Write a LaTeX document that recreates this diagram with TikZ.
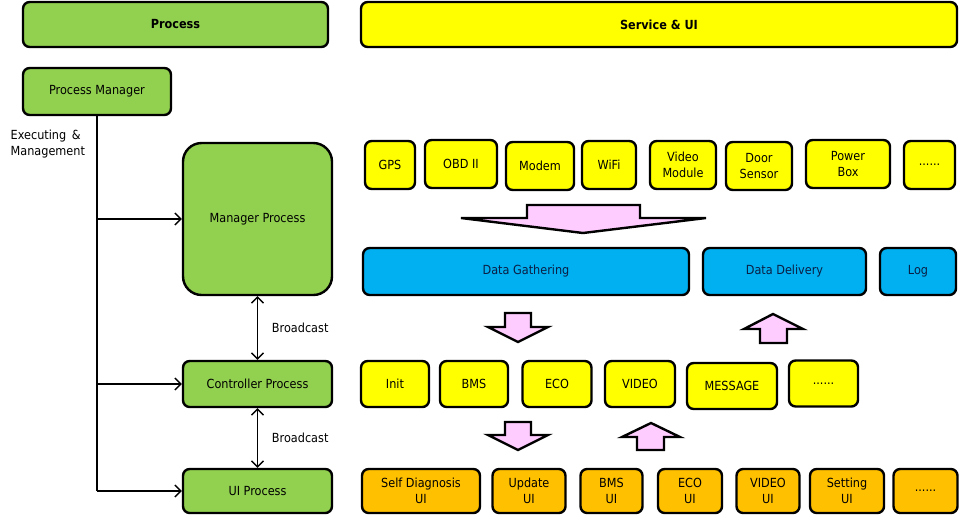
\documentclass[tikz,border=0pt]{standalone}
\usepackage{fontspec}
\setmainfont{DejaVu Sans Condensed}
\usetikzlibrary{
  positioning,
  arrows.meta
}
\definecolor{procgreen}{HTML}{92D050}
\definecolor{svcyellow}{HTML}{FFFF00}
\definecolor{datablue}{HTML}{00B0F0}
\definecolor{uiorange}{HTML}{FFC000}
\definecolor{flowpink}{HTML}{FFCCFF}
\definecolor{textnavy}{HTML}{0B1F45}
\tikzset{>={Straight Barb[length=4.5pt,width=9pt]}}

\begin{document}
\begin{tikzpicture}[x=0.75pt,y=-0.75pt,
  box/.style={draw, line width=1.8pt, rounded corners=5pt, align=center,
    inner sep=1pt, font=\fontsize{9.4}{12}\selectfont},
  dims/.style 2 args={minimum width=#1*0.75pt, minimum height=#2*0.75pt},
  procbox/.style={box, fill=procgreen},
  svcbox/.style={box, fill=svcyellow},
  databox/.style={box, fill=datablue, text=textnavy},
  uibox/.style={box, fill=uiorange},
  flow/.style={draw, line width=1.8pt, fill=flowpink, line join=miter},
  lbl/.style={font=\fontsize{9.4}{12}\selectfont, align=left}
]
\useasboundingbox (0,0) rectangle (959,519);

% headers
\node[procbox, dims={305}{45}, font=\fontsize{9.4}{12}\selectfont\bfseries] (process) at (175.5,24.5) {Process};
\node[svcbox, dims={596}{45}, font=\fontsize{9.4}{12}\selectfont\bfseries] (service) at (659,24.5) {Service \& UI};

% process side
\node[procbox, dims={148}{47}] (pm) at (97,91.5) {Process Manager};
\node[procbox, dims={149}{152}, rounded corners=14pt] (mgr) at (257.5,219) {Manager Process};
\node[procbox, dims={149}{46}] (ctrl) at (257.5,384) {Controller Process};
\node[procbox, dims={149}{44}] (ui) at (257.5,491) {UI Process};

\node[lbl, anchor=west] (execlbl) at (6,144) {Executing \,\&\\Management};

\coordinate (trunk) at (97,491);
\draw[line width=1pt] (pm.south) -- (trunk);
\draw[->, line width=1pt] (pm.south |- mgr.west) -- (mgr.west);
\draw[->, line width=1pt] (pm.south |- ctrl.west) -- (ctrl.west);
\draw[->, line width=1pt] (trunk) -- (ui.west);

\draw[<->, line width=1pt] (mgr.south) -- (ctrl.north) node[lbl, midway, right=7pt] (bc1) {Broadcast};
\draw[<->, line width=1pt] (ctrl.south) -- (ui.north) node[lbl, midway, right=7pt] (bc2) {Broadcast};

% devices
\node[svcbox, dims={50}{48}] (gps) at (390,165) {GPS};
\node[svcbox, dims={72}{48}] (obd) at (461,164) {OBD II};
\node[svcbox, dims={68}{48}] (modem) at (540,166) {Modem};
\node[svcbox, dims={54}{48}] (wifi) at (609,165) {WiFi};
\node[svcbox, dims={66}{48}] (video) at (683,165) {Video\\Module};
\node[svcbox, dims={66}{48}] (door) at (759,166) {Door\\Sensor};
\node[svcbox, dims={84}{48}] (power) at (848,164) {Power\\Box};
\node[svcbox, dims={51}{48}] (devmore) at (929.5,165) {......};

% gathering arrow
\draw[flow] (527,205) -- (640,205) -- (640,218) -- (706,218) -- (583,233)
  -- (461,218) -- (527,218) -- cycle;

% data layer
\node[databox, dims={326}{47}] (gather) at (526,271.5) {Data Gathering};
\node[databox, dims={163}{47}] (deliver) at (784.5,271.5) {Data Delivery};
\node[databox, dims={76}{47}] (log) at (918,271.5) {Log};

\draw[flow] (505,313) -- (531,313) -- (531,327) -- (548,327) -- (518,342)
  -- (488,327) -- (505,327) -- cycle;
\draw[flow] (773,314) -- (803,329) -- (787,329) -- (787,343) -- (760,343)
  -- (760,329) -- (744,329) -- cycle;

% services
\node[svcbox, dims={68}{46}] (init) at (395,384) {Init};
\node[svcbox, dims={68}{46}] (bms) at (474,384) {BMS};
\node[svcbox, dims={69}{46}] (eco) at (557,384) {ECO};
\node[svcbox, dims={70}{46}] (vid) at (640,384) {VIDEO};
\node[svcbox, dims={90}{46}] (msg) at (732,386) {MESSAGE};
\node[svcbox, dims={69}{46}] (svcmore) at (823.5,383.5) {......};

\draw[flow] (505,422) -- (531,422) -- (531,435) -- (548,435) -- (518,450)
  -- (488,435) -- (505,435) -- cycle;
\draw[flow] (651,423) -- (680,437) -- (664,437) -- (664,450) -- (637,450)
  -- (637,437) -- (622,437) -- cycle;

% ui screens
\node[uibox, dims={118}{44}] (selfd) at (421,491) {Self Diagnosis\\UI};
\node[uibox, dims={73}{44}] (update) at (529,491) {Update\\UI};
\node[uibox, dims={62}{44}] (bmsui) at (611.5,491) {BMS\\UI};
\node[uibox, dims={64}{44}] (ecoui) at (690,491) {ECO\\UI};
\node[uibox, dims={63}{44}] (vidui) at (768,491) {VIDEO\\UI};
\node[uibox, dims={74}{44}] (setui) at (847,491) {Setting\\UI};
\node[uibox, dims={64}{44}] (uimore) at (925.5,491) {......};
\end{tikzpicture}
\end{document}
